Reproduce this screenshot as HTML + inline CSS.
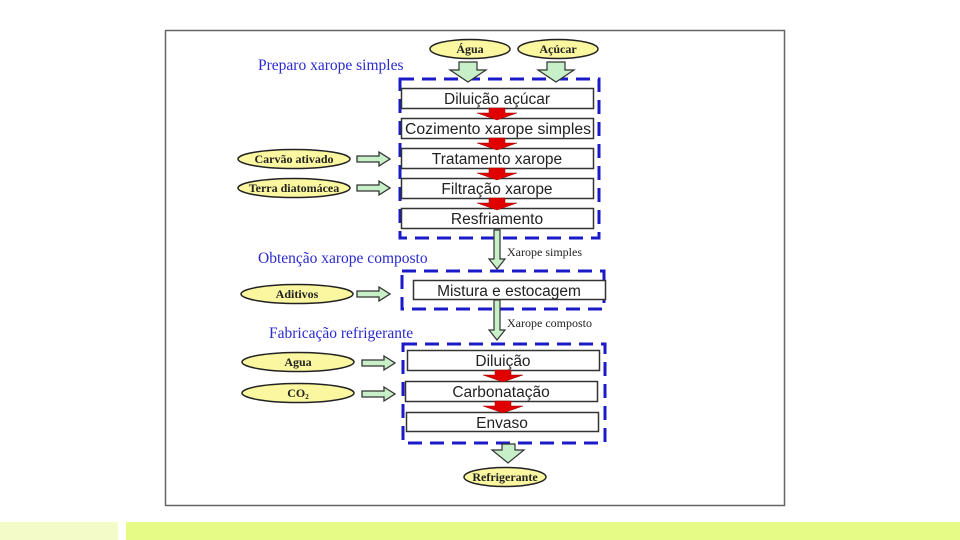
<!DOCTYPE html>
<html><head><meta charset="utf-8"><style>
html,body{margin:0;padding:0;background:#fff;}
svg{display:block}
.s{font-family:"Liberation Serif",serif;}
.a{font-family:"Liberation Sans",sans-serif;}
</style></head><body>
<svg width="960" height="540" viewBox="0 0 960 540" xmlns="http://www.w3.org/2000/svg">
<defs>
<g id="ra"><polygon points="-8,0 8,0 8,5 20,5 0,12 -20,5 -8,5" fill="#e00000" stroke="#900" stroke-width="0.5"/></g>
<g id="ha"><polygon points="0,-3 22,-3 22,-7 33,0 22,7 22,3 0,3" fill="#c8f0c8" stroke="#333" stroke-width="1.3"/></g>
</defs>
<rect x="165.5" y="30.5" width="619" height="475" fill="#fff" stroke="#666" stroke-width="1.5"/>
<rect x="0" y="522" width="118" height="18" fill="#f3fcc8"/>
<rect x="126" y="522" width="834" height="18" fill="#e6fb86"/>

<g class="s" fill="#2a2ad0" font-size="15.5">
<text x="258" y="70">Preparo xarope simples</text>
<text x="258" y="263">Obtenção xarope composto</text>
<text x="269" y="338">Fabricação refrigerante</text>
</g>

<g fill="none" stroke="#1a1ac8" stroke-width="3" stroke-dasharray="14,8">
<rect x="400" y="79" width="199" height="159"/>
<rect x="402" y="271" width="202" height="38"/>
<rect x="403" y="344" width="202" height="99"/>
</g>

<g fill="#fbf7a0" stroke="#222" stroke-width="1.5">
<ellipse cx="470" cy="49" rx="40" ry="9.5"/>
<ellipse cx="558" cy="49" rx="40" ry="9.5"/>
<ellipse cx="294" cy="159" rx="56" ry="9.5"/>
<ellipse cx="294" cy="188" rx="56" ry="9.5"/>
<ellipse cx="297" cy="294" rx="56" ry="9.5"/>
<ellipse cx="298" cy="362" rx="56" ry="9.5"/>
<ellipse cx="298" cy="393" rx="56" ry="9.5"/>
<ellipse cx="505" cy="477" rx="41" ry="9.5"/>
</g>
<g class="s" font-size="12" text-anchor="middle" fill="#222" font-weight="bold">
<text x="470" y="53">Água</text>
<text x="558" y="53">Açúcar</text>
<text x="294" y="163">Carvão ativado</text>
<text x="294" y="192">Terra diatomácea</text>
<text x="297" y="298">Aditivos</text>
<text x="298" y="366">Agua</text>
<text x="298" y="397">CO<tspan font-size="7" dy="2">2</tspan></text>
<text x="505" y="481">Refrigerante</text>
</g>

<g fill="#c8f0c8" stroke="#333" stroke-width="1.2">
<polygon points="459,62 477,62 477,70 486,70 468,82 450,70 459,70"/>
<polygon points="547,62 565,62 565,70 574,70 556,82 538,70 547,70"/>
<polygon points="494,230 500,230 500,259 505,259 497,269 489,259 494,259"/>
<polygon points="494,300 500,300 500,330 505,330 497,340 489,330 494,330"/>
<polygon points="502,444 515,444 515,450 524,450 508,463 492,450 502,450"/>
</g>
<g class="s" font-size="12" fill="#222">
<text x="507" y="256">Xarope simples</text>
<text x="507" y="327">Xarope composto</text>
</g>

<use href="#ha" x="357" y="159"/>
<use href="#ha" x="357" y="188"/>
<use href="#ha" x="357" y="294"/>
<use href="#ha" x="362" y="363"/>
<use href="#ha" x="362" y="394"/>

<g fill="#fff" stroke="#333" stroke-width="1.5">
<rect x="401.5" y="88.5" width="192" height="20"/>
<rect x="401.5" y="118.5" width="192" height="20"/>
<rect x="401.5" y="148.5" width="192" height="20"/>
<rect x="401.5" y="178.5" width="192" height="20"/>
<rect x="401.5" y="208.5" width="192" height="20"/>
<rect x="413.5" y="280.5" width="192" height="19"/>
<rect x="407.5" y="350.5" width="192" height="20"/>
<rect x="405.5" y="381.5" width="192" height="20"/>
<rect x="406.5" y="412.5" width="192" height="19"/>
</g>
<use href="#ra" x="497" y="108"/>
<use href="#ra" x="497" y="138"/>
<use href="#ra" x="497" y="168"/>
<use href="#ra" x="497" y="198"/>
<use href="#ra" x="503" y="370"/>
<use href="#ra" x="503" y="401"/>
<g class="a" font-size="15.5" text-anchor="middle" fill="#222">
<text x="497" y="104">Diluição açúcar</text>
<text x="498" y="134" textLength="186" lengthAdjust="spacingAndGlyphs">Cozimento xarope simples</text>
<text x="497" y="164">Tratamento xarope</text>
<text x="497" y="194">Filtração xarope</text>
<text x="497" y="224">Resfriamento</text>
<text x="509" y="296">Mistura e estocagem</text>
<text x="503" y="366">Diluição</text>
<text x="501" y="397">Carbonatação</text>
<text x="502" y="428">Envaso</text>
</g>
</svg>
</body></html>
